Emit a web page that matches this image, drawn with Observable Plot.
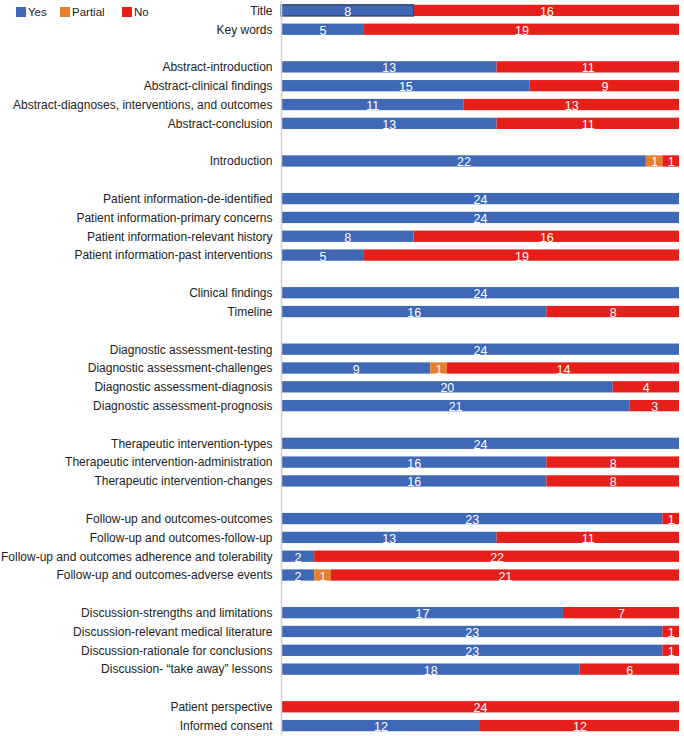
<!DOCTYPE html>
<html>
<head>
<meta charset="utf-8">
<script src="https://cdn.jsdelivr.net/npm/d3@7"></script>
<script src="https://cdn.jsdelivr.net/npm/@observablehq/plot@0.6"></script>
<style>
  html, body { margin: 0; padding: 0; background: #fff; }
  #wrap { position: relative; width: 684px; height: 736px; font-family: "Liberation Sans", Arial, sans-serif; }
  #legend { position: absolute; left: 0; top: 0; font-size: 11.5px; color: #222; }
  #legend .item { position: absolute; top: 6px; display: flex; align-items: center; white-space: nowrap; }
  #legend span.sw { display: inline-block; width: 10px; height: 10px; margin-right: 2px; }
</style>
</head>
<body>
<div id="wrap">
  <div id="chart"></div>
  <div id="legend"></div>
</div>
<script>
const items = [
  "Title", "Key words",
  "Abstract-introduction", "Abstract-clinical findings", "Abstract-diagnoses, interventions, and outcomes", "Abstract-conclusion",
  "Introduction",
  "Patient information-de-identified", "Patient information-primary concerns", "Patient information-relevant history", "Patient information-past interventions",
  "Clinical findings", "Timeline",
  "Diagnostic assessment-testing", "Diagnostic assessment-challenges", "Diagnostic assessment-diagnosis", "Diagnostic assessment-prognosis",
  "Therapeutic intervention-types", "Therapeutic intervention-administration", "Therapeutic intervention-changes",
  "Follow-up and outcomes-outcomes", "Follow-up and outcomes-follow-up", "Follow-up and outcomes adherence and tolerability", "Follow-up and outcomes-adverse events",
  "Discussion-strengths and limitations", "Discussion-relevant medical literature", "Discussion-rationale for conclusions", "Discussion- \u201ctake away\u201d lessons",
  "Patient perspective", "Informed consent"
];
const groups = [
  1, 1,
  2, 2, 2, 2,
  3,
  4, 4, 4, 4,
  5, 5,
  6, 6, 6, 6,
  7, 7, 7,
  8, 8, 8, 8,
  9, 9, 9, 9,
  10, 10
];
const yes     = [8, 5, 13, 15, 11, 13, 22, 24, 24, 8, 5, 24, 16, 24, 9, 20, 21, 24, 16, 16, 23, 13, 2, 2, 17, 23, 23, 18, 0, 12];
const partial = [0, 0, 0, 0, 0, 0, 1, 0, 0, 0, 0, 0, 0, 0, 1, 0, 0, 0, 0, 0, 0, 0, 0, 1, 0, 0, 0, 0, 0, 0];
const no      = [16, 19, 11, 9, 13, 11, 1, 0, 0, 16, 19, 0, 8, 0, 14, 4, 3, 0, 8, 8, 1, 11, 22, 21, 7, 1, 1, 6, 24, 12];
const categories = ["Yes", "Partial", "No"];
const colors = ["#3f68b6", "#e87e2c", "#e61f1a"];

// Build y domain with spacer slots between groups
const domain = [];
items.forEach((it, i) => {
  if (i > 0 && groups[i] !== groups[i - 1]) domain.push("__gap" + i);
  domain.push(it);
});

const series = [yes, partial, no];
const data = [];
items.forEach((it, i) => {
  categories.forEach((c, k) => {
    data.push({item: it, category: c, value: series[k][i]});
  });
});
const nonzero = data.filter(d => d.value > 0);

const chart = Plot.plot({
  width: 684,
  height: 736,
  marginLeft: 281,
  marginRight: 5,
  marginTop: 1,
  marginBottom: 1,
  style: {fontFamily: "Liberation Sans, Arial, sans-serif", fontSize: "12px", color: "#222"},
  x: {domain: [0, 24], axis: null},
  y: {domain, paddingInner: 0.4, paddingOuter: 0.2, round: false, label: null, tickSize: 0, tickPadding: 9,
      tickFormat: d => d.startsWith("__gap") ? "" : d},
  color: {domain: categories, range: colors},
  marks: [
    Plot.barX(nonzero, Plot.stackX({x: "value", y: "item", fill: "category", order: categories,
      stroke: d => (d.item === "Title" && d.category === "Yes") ? "#1d2a44" : "none"})),
    Plot.text(nonzero, Plot.stackX({x: "value", y: "item", z: "category", order: categories, text: d => String(d.value),
      fill: "white", fontSize: 12.5, dy: 1})),
    Plot.ruleX([0], {stroke: "#cfcfcf", strokeWidth: 1.5})
  ]
});
document.getElementById("chart").appendChild(chart);

const legend = document.getElementById("legend");
const lefts = [16, 60, 122];
categories.forEach((c, k) => {
  const el = document.createElement("div");
  el.className = "item";
  el.style.left = lefts[k] + "px";
  el.innerHTML = `<span class="sw" style="background:${colors[k]}"></span>${c}`;
  legend.appendChild(el);
});
</script>
</body>
</html>
